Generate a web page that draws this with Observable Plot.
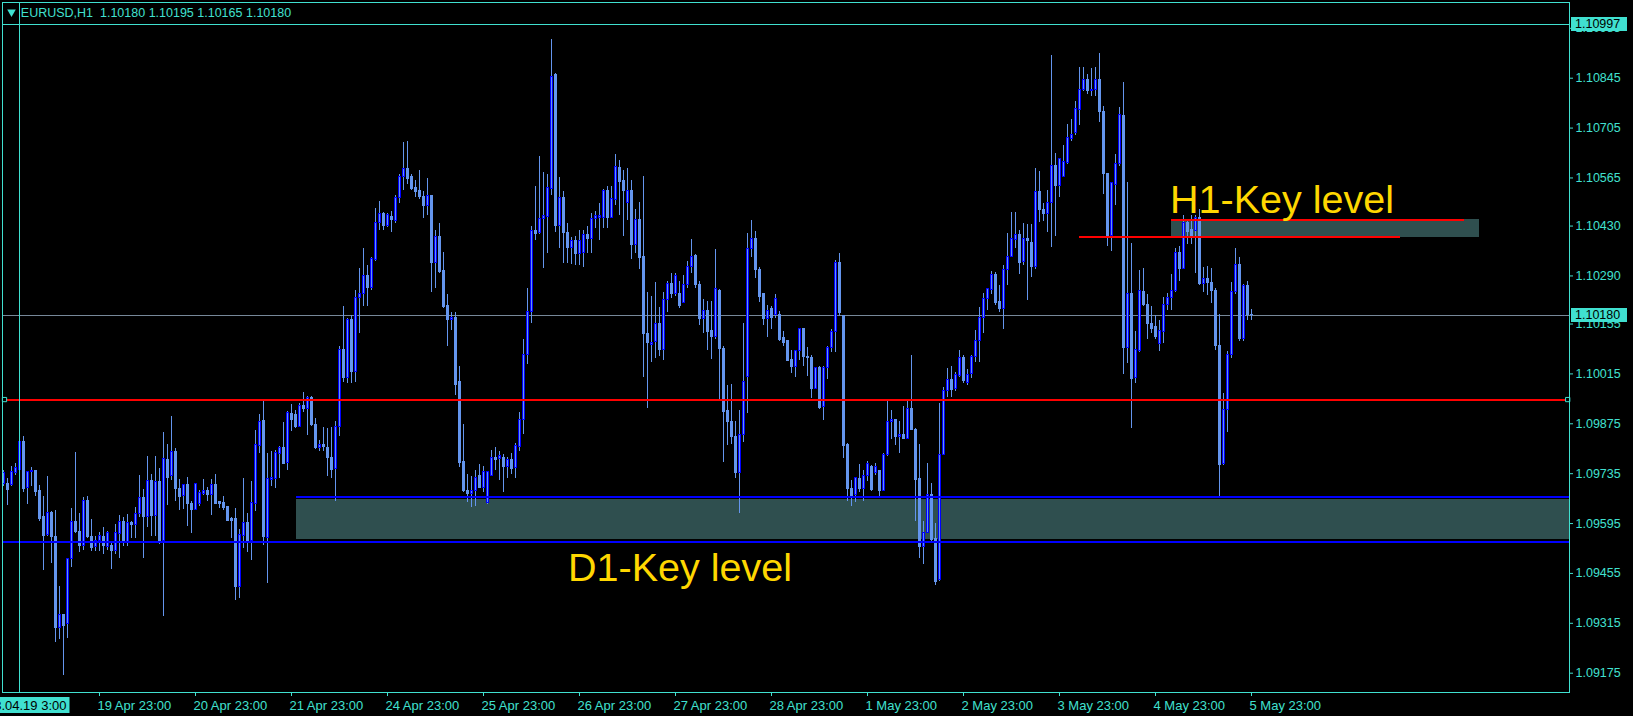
<!DOCTYPE html>
<html><head><meta charset="utf-8">
<script src="https://cdn.jsdelivr.net/npm/d3@7"></script>
<script src="https://cdn.jsdelivr.net/npm/@observablehq/plot@0.6"></script>
<style>
html,body{margin:0;padding:0;background:#000;overflow:hidden;}
#chart svg{display:block;}
</style></head><body><div id="chart"></div>
<script>
// ---- header ----
const symbolHeader = "EURUSD,H1  1.10180 1.10195 1.10165 1.10180";

// ---- H1 bars, first bar = 2023.04.18 23:00 ----
const open = [
1.09707,1.09705,1.09702,1.09737,1.09744,1.09825,1.09696,1.09740,1.09742,1.09686,
1.09612,1.09562,1.09626,1.09556,1.09301,1.09338,1.09313,1.09496,1.09600,1.09571,
1.09531,1.09658,1.09556,1.09528,1.09547,1.09556,1.09528,1.09531,1.09517,1.09566,
1.09600,1.09540,1.09596,1.09592,1.09621,1.09668,1.09612,1.09714,1.09617,1.09712,
1.09545,1.09774,1.09728,1.09795,1.09693,1.09672,1.09702,1.09649,1.09633,1.09649,
1.09679,1.09686,1.09675,1.09702,1.09655,1.09653,1.09641,1.09609,1.09607,1.09417,
1.09561,1.09597,1.09546,1.09650,1.09812,1.09882,1.09554,1.09716,1.09721,1.09791,
1.09807,1.09765,1.09902,1.09900,1.09867,1.09925,1.09917,1.09948,1.09873,1.09807,
1.09815,1.09807,1.09780,1.09749,1.09867,1.10082,1.10004,1.10166,1.10020,1.10229,
1.10238,1.10291,1.10256,1.10334,1.10438,1.10465,1.10430,1.10455,1.10445,1.10508,
1.10567,1.10590,1.10568,1.10537,1.10528,1.10511,1.10485,1.10514,1.10325,1.10398,
1.10303,1.10206,1.10166,1.10173,1.09992,1.09767,1.09686,1.09679,1.09687,1.09728,
1.09696,1.09653,1.09728,1.09780,1.09777,1.09780,1.09754,1.09772,1.09751,1.09809,
1.09885,1.10067,1.10190,1.10415,1.10410,1.10450,1.10456,1.10534,1.10853,1.10430,
1.10508,1.10410,1.10368,1.10389,1.10352,1.10354,1.10405,1.10395,1.10450,1.10453,
1.10453,1.10528,1.10453,1.10503,1.10592,1.10557,1.10494,1.10528,1.10378,1.10447,
1.10343,1.10128,1.10095,1.10104,1.10155,1.10082,1.10223,1.10267,1.10238,1.10238,
1.10215,1.10265,1.10314,1.10345,1.10265,1.10169,1.10192,1.10136,1.10120,1.10248,
1.10085,1.09911,1.09879,1.09838,1.09737,1.09844,1.10006,1.10366,1.10393,1.10308,
1.10238,1.10169,1.10196,1.10180,1.10180,1.10115,1.10108,1.10055,1.10035,1.10080,
1.10140,1.10062,1.10059,1.09974,1.10032,1.09923,1.10032,1.10088,1.10132,1.10325,
1.10178,1.09815,1.09693,1.09676,1.09719,1.09693,1.09728,1.09754,1.09737,1.09742,
1.09687,1.09788,1.09881,1.09885,1.09838,1.09844,1.09832,1.09916,1.09858,1.09719,
1.09529,1.09568,1.09676,1.09552,1.09436,1.09788,1.09966,1.09997,1.09972,1.10009,
1.10059,1.09989,1.10016,1.10062,1.10108,1.10171,1.10224,1.10250,1.10294,1.10217,
1.10198,1.10306,1.10343,1.10392,1.10405,1.10329,1.10395,1.10383,1.10314,1.10526,
1.10476,1.10465,1.10494,1.10598,1.10542,1.10569,1.10607,1.10673,1.10691,1.10757,
1.10813,1.10839,1.10809,1.10813,1.10839,1.10751,1.10577,1.10401,1.10546,1.10604,
1.10740,1.10088,1.10238,1.10004,1.10078,1.10244,1.10209,1.10155,1.10146,1.10099,
1.10132,1.10209,1.10227,1.10248,1.10354,1.10310,1.10438,1.10418,1.10415,1.10453,
1.10267,1.10282,1.10271,1.10248,1.10093,1.09763,1.09914,1.10067,1.10244,1.10320,
1.10113,1.10262,1.10180];
const high = [
1.09745,1.09722,1.09754,1.09763,1.09825,1.09839,1.09742,1.09751,1.09745,1.09702,
1.09670,1.09726,1.09629,1.09633,1.09417,1.09338,1.09498,1.09638,1.09795,1.09624,
1.09668,1.09670,1.09606,1.09560,1.09571,1.09583,1.09574,1.09545,1.09591,1.09617,
1.09612,1.09620,1.09600,1.09641,1.09730,1.09691,1.09784,1.09734,1.09784,1.09749,
1.09851,1.09816,1.09896,1.09807,1.09719,1.09705,1.09723,1.09656,1.09707,1.09687,
1.09719,1.09696,1.09719,1.09733,1.09658,1.09670,1.09641,1.09612,1.09638,1.09577,
1.09722,1.09624,1.09713,1.09856,1.09902,1.09939,1.09791,1.09798,1.09800,1.09812,
1.09879,1.09910,1.09928,1.09911,1.09931,1.09962,1.09951,1.09951,1.09890,1.09827,
1.09865,1.09861,1.09865,1.09881,1.10093,1.10204,1.10171,1.10178,1.10250,1.10310,
1.10368,1.10320,1.10341,1.10480,1.10499,1.10468,1.10465,1.10470,1.10517,1.10575,
1.10664,1.10668,1.10575,1.10557,1.10586,1.10528,1.10563,1.10517,1.10418,1.10438,
1.10357,1.10238,1.10187,1.10187,1.10035,1.09873,1.09734,1.09728,1.09745,1.09760,
1.09754,1.09742,1.09800,1.09809,1.09798,1.09788,1.09780,1.09792,1.09821,1.09908,
1.10113,1.10256,1.10430,1.10542,1.10624,1.10581,1.10575,1.10955,1.10857,1.10567,
1.10528,1.10436,1.10398,1.10401,1.10418,1.10418,1.10430,1.10465,1.10470,1.10494,
1.10534,1.10540,1.10540,1.10631,1.10615,1.10586,1.10592,1.10557,1.10476,1.10496,
1.10569,1.10244,1.10233,1.10271,1.10201,1.10244,1.10275,1.10296,1.10296,1.10275,
1.10291,1.10331,1.10392,1.10349,1.10273,1.10225,1.10218,1.10218,1.10364,1.10252,
1.10093,1.09983,1.09986,1.09881,1.09911,1.10157,1.10410,1.10447,1.10415,1.10314,
1.10238,1.10206,1.10204,1.10238,1.10190,1.10134,1.10108,1.10082,1.10082,1.10142,
1.10142,1.10088,1.10067,1.10032,1.10035,1.10035,1.10093,1.10140,1.10333,1.10354,
1.10180,1.09821,1.09716,1.09725,1.09760,1.09745,1.09769,1.09759,1.09763,1.09745,
1.09792,1.09939,1.09911,1.09888,1.09881,1.09923,1.09939,1.10067,1.09861,1.09818,
1.09600,1.09763,1.09707,1.09595,1.09931,1.09977,1.10030,1.10035,1.10018,1.10082,
1.10067,1.10027,1.10067,1.10136,1.10201,1.10241,1.10256,1.10302,1.10299,1.10262,
1.10320,1.10410,1.10468,1.10468,1.10418,1.10436,1.10433,1.10433,1.10592,1.10584,
1.10494,1.10531,1.10909,1.10635,1.10621,1.10656,1.10714,1.10728,1.10780,1.10874,
1.10874,1.10856,1.10871,1.10876,1.10914,1.10766,1.10577,1.10552,1.10631,1.10763,
1.10832,1.10552,1.10380,1.10134,1.10306,1.10310,1.10238,1.10204,1.10178,1.10166,
1.10229,1.10241,1.10294,1.10368,1.10372,1.10459,1.10447,1.10461,1.10461,1.10476,
1.10314,1.10317,1.10310,1.10256,1.10183,1.09960,1.10078,1.10271,1.10366,1.10343,
1.10267,1.10273,1.10195];
const low = [
1.09699,1.09647,1.09699,1.09731,1.09744,1.09682,1.09649,1.09699,1.09670,1.09600,
1.09464,1.09560,1.09484,1.09262,1.09270,1.09169,1.09273,1.09473,1.09566,1.09513,
1.09519,1.09554,1.09516,1.09517,1.09517,1.09508,1.09519,1.09467,1.09508,1.09496,
1.09531,1.09531,1.09554,1.09554,1.09612,1.09496,1.09583,1.09560,1.09560,1.09537,
1.09334,1.09647,1.09716,1.09658,1.09633,1.09635,1.09587,1.09566,1.09631,1.09644,
1.09675,1.09658,1.09618,1.09649,1.09638,1.09633,1.09600,1.09554,1.09380,1.09386,
1.09525,1.09513,1.09490,1.09629,1.09792,1.09533,1.09426,1.09700,1.09693,1.09722,
1.09760,1.09745,1.09852,1.09861,1.09865,1.09908,1.09841,1.09867,1.09803,1.09798,
1.09798,1.09728,1.09722,1.09658,1.09838,1.09992,1.09989,1.09989,1.09992,1.10128,
1.10204,1.10204,1.10248,1.10331,1.10418,1.10418,1.10426,1.10412,1.10438,1.10494,
1.10531,1.10546,1.10531,1.10511,1.10505,1.10450,1.10459,1.10244,1.10256,1.10296,
1.10198,1.10093,1.10136,1.09954,1.09751,1.09682,1.09653,1.09641,1.09644,1.09693,
1.09682,1.09649,1.09728,1.09745,1.09716,1.09682,1.09722,1.09734,1.09722,1.09798,
1.09846,1.10041,1.10157,1.10389,1.10407,1.10310,1.10354,1.10517,1.10412,1.10366,
1.10325,1.10325,1.10322,1.10320,1.10320,1.10314,1.10352,1.10354,1.10424,1.10389,
1.10424,1.10424,1.10453,1.10488,1.10459,1.10401,1.10447,1.10337,1.10354,1.10308,
1.10006,1.09919,1.10047,1.10059,1.10064,1.10052,1.10186,1.10227,1.10233,1.10198,
1.10213,1.10256,1.10296,1.10256,1.10151,1.10128,1.10082,1.10055,1.10111,1.09937,
1.09765,1.09815,1.09818,1.09722,1.09624,1.09823,1.09904,1.10341,1.10283,1.10215,
1.10151,1.10117,1.10140,1.10171,1.10105,1.10093,1.10050,1.10016,1.10004,1.10052,
1.10035,1.10009,1.09946,1.09972,1.09916,1.09885,1.09999,1.10076,1.10076,1.10175,
1.09777,1.09658,1.09644,1.09653,1.09682,1.09656,1.09714,1.09684,1.09730,1.09672,
1.09684,1.09784,1.09832,1.09815,1.09792,1.09830,1.09830,1.09856,1.09600,1.09496,
1.09479,1.09566,1.09545,1.09421,1.09432,1.09786,1.09948,1.09948,1.09966,1.10004,
1.09989,1.09983,1.10001,1.10047,1.10047,1.10128,1.10192,1.10238,1.10206,1.10186,
1.10140,1.10262,1.10341,1.10366,1.10294,1.10320,1.10221,1.10287,1.10308,1.10441,
1.10443,1.10412,1.10370,1.10401,1.10511,1.10566,1.10604,1.10668,1.10685,1.10712,
1.10807,1.10798,1.10795,1.10795,1.10720,1.10519,1.10372,1.10360,1.10488,1.10598,
1.10012,1.10044,1.09861,1.09989,1.10076,1.10204,1.10111,1.10128,1.10113,1.10078,
1.10099,1.10192,1.10192,1.10244,1.10273,1.10308,1.10378,1.10378,1.10296,1.10262,
1.10244,1.10236,1.10213,1.10082,1.09664,1.09757,1.09850,1.10059,1.10238,1.10105,
1.10105,1.10166,1.10165];
const close = [
1.09736,1.09690,1.09740,1.09751,1.09825,1.09693,1.09740,1.09742,1.09684,1.09609,
1.09560,1.09626,1.09556,1.09301,1.09338,1.09308,1.09496,1.09600,1.09571,1.09531,
1.09658,1.09556,1.09527,1.09547,1.09559,1.09533,1.09568,1.09517,1.09568,1.09600,
1.09540,1.09597,1.09591,1.09621,1.09668,1.09612,1.09714,1.09617,1.09712,1.09545,
1.09777,1.09723,1.09795,1.09693,1.09670,1.09702,1.09649,1.09633,1.09705,1.09682,
1.09686,1.09675,1.09702,1.09651,1.09649,1.09638,1.09603,1.09603,1.09417,1.09563,
1.09597,1.09546,1.09653,1.09815,1.09879,1.09556,1.09719,1.09722,1.09792,1.09807,
1.09763,1.09904,1.09885,1.09865,1.09925,1.09916,1.09948,1.09873,1.09807,1.09816,
1.09809,1.09780,1.09745,1.09867,1.10082,1.10004,1.10166,1.10020,1.10229,1.10238,
1.10291,1.10256,1.10337,1.10438,1.10465,1.10430,1.10461,1.10447,1.10508,1.10568,
1.10590,1.10563,1.10535,1.10526,1.10511,1.10485,1.10514,1.10325,1.10398,1.10300,
1.10204,1.10166,1.10173,1.09985,1.09765,1.09687,1.09679,1.09686,1.09722,1.09696,
1.09740,1.09740,1.09780,1.09774,1.09784,1.09754,1.09772,1.09749,1.09812,1.09887,
1.10067,1.10190,1.10415,1.10407,1.10450,1.10459,1.10537,1.10847,1.10430,1.10508,
1.10410,1.10368,1.10389,1.10352,1.10387,1.10405,1.10395,1.10450,1.10457,1.10457,
1.10528,1.10453,1.10505,1.10596,1.10555,1.10528,1.10528,1.10378,1.10447,1.10341,
1.10128,1.10102,1.10102,1.10154,1.10082,1.10223,1.10267,1.10238,1.10291,1.10206,
1.10265,1.10314,1.10343,1.10264,1.10169,1.10192,1.10134,1.10120,1.10252,1.10085,
1.09908,1.09879,1.09838,1.09737,1.09844,1.09992,1.10366,1.10393,1.10308,1.10231,
1.10169,1.10192,1.10171,1.10224,1.10111,1.10102,1.10052,1.10035,1.10080,1.10140,
1.10062,1.10059,1.09974,1.10032,1.09919,1.10032,1.10088,1.10134,1.10325,1.10186,
1.09812,1.09693,1.09672,1.09722,1.09693,1.09728,1.09763,1.09690,1.09754,1.09687,
1.09788,1.09881,1.09887,1.09838,1.09844,1.09832,1.09916,1.09858,1.09716,1.09529,
1.09568,1.09676,1.09548,1.09432,1.09788,1.09966,1.09997,1.09969,1.10012,1.10059,
1.09995,1.10012,1.10062,1.10108,1.10171,1.10224,1.10252,1.10294,1.10213,1.10198,
1.10306,1.10343,1.10395,1.10405,1.10325,1.10395,1.10389,1.10314,1.10526,1.10476,
1.10465,1.10496,1.10598,1.10542,1.10618,1.10610,1.10676,1.10685,1.10758,1.10813,
1.10839,1.10809,1.10813,1.10839,1.10749,1.10577,1.10401,1.10552,1.10604,1.10743,
1.10088,1.10238,1.10001,1.10082,1.10248,1.10209,1.10155,1.10140,1.10120,1.10136,
1.10209,1.10229,1.10248,1.10354,1.10310,1.10438,1.10412,1.10401,1.10453,1.10267,
1.10282,1.10271,1.10248,1.10093,1.09760,1.09914,1.10067,1.10244,1.10320,1.10113,
1.10262,1.10180,1.10180];

// ---- axes ----
const dayTickBars = [24,48,72,96,120,144,168,192,216,240,264,288,312];
const dayLabels = ["19 Apr 23:00","20 Apr 23:00","21 Apr 23:00","24 Apr 23:00","25 Apr 23:00","26 Apr 23:00","27 Apr 23:00","28 Apr 23:00","1 May 23:00","2 May 23:00","3 May 23:00","4 May 23:00","5 May 23:00"];
const priceTicks = [1.10985,1.10845,1.10705,1.10565,1.10430,1.10290,1.10155,1.10015,1.09875,1.09735,1.09595,1.09455,1.09315,1.09175];
const priceDomain = [1.091208, 1.110575];
const barDomain = [-0.375, 391.375];

// ---- chart objects ----
const cursorBar = 4, cursorLabel = "2023.04.19 3:00";
const topLevel = 1.10997, bidPrice = 1.10180;
const redLevel = 1.09943;
const d1ZoneBars = [73.125, 391.375], d1ZonePrices = [1.09550, 1.09662];
const d1LinePrices = [1.09669, 1.09543], d1LineStartBars = [73.125, -0.375];
const h1ZoneBars = [291.875, 368.875], h1ZonePrices = [1.10398, 1.10448];
const h1LinePrices = [1.10446, 1.10398], h1LineBars1 = [291.875, 268.875], h1LineBars2 = [365, 349];
const keyLabels = ["H1-Key level", "D1-Key level"], keyLabelBars = [291.5, 141], keyLabelPrices = [1.10501, 1.09468];

const TURQ = "#40E0D0", CORN = "#6495ED", BLUE = "#0000FF", RED = "#FF0000", ZONE = "#2F4F4F", GOLD = "#FFD700", BID = "#778899";
const FONT = "'Liberation Sans', Arial, sans-serif";

const bars = open.map((o, i) => ({i, o, h: high[i], l: low[i], c: close[i]}));
const bulls = bars.filter(d => d.c > d.o), bears = bars.filter(d => !(d.c > d.o));
const bx1 = d => d.i - 0.375, bx2 = d => d.i + 0.375;
const crisp = {shapeRendering: "crispEdges"};

const chart = Plot.plot({
  width: 1633, height: 716,
  marginLeft: 2, marginRight: 64, marginTop: 2, marginBottom: 24,
  x: {domain: barDomain, axis: null},
  y: {domain: priceDomain, axis: null},
  style: {background: "#000", color: TURQ, fontFamily: FONT, fontSize: "12.5px"},
  marks: [
    Plot.rect([0], {x1: d1ZoneBars[0], x2: d1ZoneBars[1], y1: d1ZonePrices[0], y2: d1ZonePrices[1], fill: ZONE, ...crisp}),
    Plot.rect([0], {x1: h1ZoneBars[0], x2: h1ZoneBars[1], y1: h1ZonePrices[0], y2: h1ZonePrices[1], fill: ZONE, ...crisp}),
    Plot.ruleY([bidPrice], {stroke: BID, ...crisp}),
    Plot.ruleX(bars, {x: "i", y1: "l", y2: "h", stroke: CORN, dx: -0.5, ...crisp}),
    Plot.rect(bears, {x1: bx1, x2: bx2, y1: "o", y2: "c", fill: CORN, insetTop: -0.5, insetBottom: -0.5, ...crisp}),
    Plot.rect(bulls, {x1: bx1, x2: bx2, y1: "o", y2: "c", fill: BLUE, insetTop: -0.5, insetBottom: -0.5, ...crisp}),
    Plot.rect(bulls, {x1: bx1, x2: bx2, y1: "o", y2: "c", fill: CORN, insetLeft: 1, insetRight: 1, insetTop: 0.5, insetBottom: 0.5, ...crisp}),
    Plot.ruleY([topLevel], {stroke: TURQ, ...crisp}),
    Plot.ruleY([redLevel], {stroke: RED, strokeWidth: 2, ...crisp}),
    Plot.ruleY(d1LinePrices, {x1: (d, i) => d1LineStartBars[i], x2: barDomain[1], stroke: BLUE, strokeWidth: 2, ...crisp}),
    Plot.ruleY(h1LinePrices, {x1: (d, i) => h1LineBars1[i], x2: (d, i) => h1LineBars2[i], stroke: RED, strokeWidth: 2, ...crisp}),
    Plot.ruleX([cursorBar], {stroke: TURQ, dx: -0.5, ...crisp}),
    Plot.dot([barDomain[0] + 0.5, barDomain[1] - 0.45], {x: d => d, y: redLevel, symbol: "square", r: 2.4, fill: "#000", stroke: TURQ, strokeWidth: 1}),
    Plot.frame({stroke: TURQ, ...crisp}),
    Plot.text(keyLabels, {x: (d, i) => keyLabelBars[i], y: (d, i) => keyLabelPrices[i], text: d => d, textAnchor: "start", lineAnchor: "middle", fontSize: 39.5, fill: GOLD, fontFamily: FONT}),
    Plot.text([symbolHeader], {frameAnchor: "top-left", dx: 18.3, dy: 10.7, textAnchor: "start", lineAnchor: "middle", fill: TURQ, fontSize: 12.5}),
    Plot.dot([0], {frameAnchor: "top-left", dx: 9, dy: 9.6, symbol: "triangle", rotate: 180, r: 3.2, fill: TURQ}),
    Plot.axisY(priceTicks, {anchor: "right", tickSize: 3, tickPadding: 3, tickFormat: d => d.toFixed(5), stroke: TURQ, fill: TURQ, textAnchor: "start", fontSize: 12.5, label: null}),
    Plot.axisX(dayTickBars, {anchor: "bottom", tickSize: 4, tickFormat: () => "", stroke: TURQ, dx: -0.5, label: null}),
    Plot.axisX(dayTickBars, {anchor: "bottom", tickSize: 0, tickPadding: 8, tickFormat: d => dayLabels[dayTickBars.indexOf(d)], fill: TURQ, textAnchor: "start", dx: -2.5, fontSize: 13, label: null})
  ]
});
document.getElementById("chart").appendChild(chart);

// price tags and cursor time tag, positioned with the chart's own scales
const sx = chart.scale("x"), sy = chart.scale("y");
const svg = d3.select(chart);
function priceTag(price, label) {
  const y = Math.round(sy.apply(price));
  svg.append("rect").attr("x", 1571).attr("y", y - 7).attr("width", 56).attr("height", 14).attr("fill", TURQ);
  svg.append("text").attr("x", 1575).attr("y", y).attr("dy", "0.35em").attr("text-anchor", "start")
    .attr("fill", "#000").attr("font-family", FONT).attr("font-size", 12.5).text(label);
}
priceTag(topLevel, topLevel.toFixed(5));
priceTag(bidPrice, bidPrice.toFixed(5));
const cx = sx.apply(cursorBar);
svg.append("rect").attr("x", cx - 56).attr("y", 697).attr("width", 106).attr("height", 16).attr("fill", TURQ);
svg.append("text").attr("x", cx + 47).attr("y", 705).attr("dy", "0.35em").attr("text-anchor", "end")
  .attr("fill", "#000").attr("font-family", FONT).attr("font-size", 13).text(cursorLabel);
</script>
</body></html>
